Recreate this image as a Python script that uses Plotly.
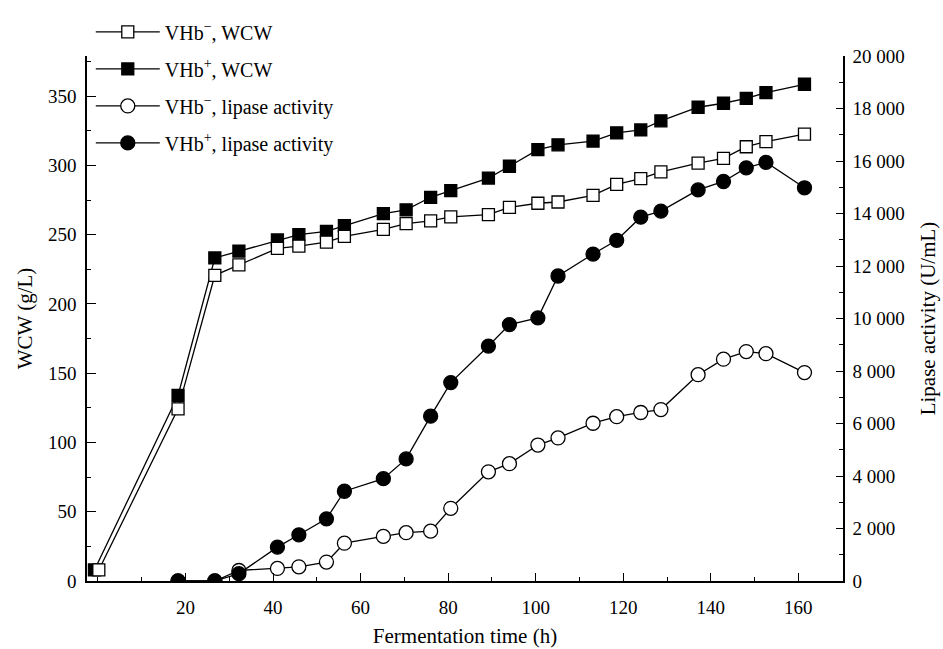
import plotly.graph_objects as go

# ---- data ----
time_wcw_neg = [0.2, 18.3, 26.7, 32.2, 41.0, 45.9, 52.2, 56.3, 65.2, 70.4, 76.0, 80.6, 89.2,
                94.0, 100.5, 105.1, 113.1, 118.5, 124.0, 128.6, 137.1, 142.9, 148.1, 152.6, 161.4]
time_wcw_pos = [-0.8, 18.3, 26.7, 32.2, 41.0, 45.9, 52.2, 56.3, 65.2, 70.4, 76.0, 80.6, 89.2,
                94.0, 100.5, 105.1, 113.1, 118.5, 124.0, 128.6, 137.1, 142.9, 148.1, 152.6, 161.4]
wcw_neg = [8, 124.3, 220.7, 228.2, 240.1, 241.7, 244.6, 248.8, 253.8, 258.0, 260.0, 262.9, 264.5,
           269.7, 272.7, 273.6, 278.4, 286.3, 290.5, 295.3, 301.6, 305.1, 313.5, 317.2, 322.6]
wcw_pos = [8, 133.9, 233.2, 238.2, 246.2, 250.1, 252.4, 256.5, 265.2, 267.9, 277.0, 281.8, 290.9,
           299.4, 311.4, 314.9, 317.6, 323.5, 325.6, 332.2, 342.0, 344.9, 348.4, 352.5, 358.6]

time_lip = [18.3, 26.7, 32.2, 41.0, 45.9, 52.2, 56.3, 65.2, 70.4, 76.0, 80.6, 89.2,
            94.0, 100.5, 105.1, 113.1, 118.5, 124.0, 128.6, 137.1, 142.9, 148.1, 152.6, 161.4]
lip_neg = [0, 0, 400, 480, 540, 720, 1440, 1700, 1840, 1900, 2770, 4160,
           4470, 5180, 5450, 6010, 6260, 6420, 6530, 7860, 8450, 8740, 8660, 7940]
lip_pos = [0, 0, 280, 1290, 1760, 2370, 3420, 3900, 4650, 6280, 7560, 8950,
           9770, 10025, 11620, 12455, 12980, 13860, 14090, 14900, 15220, 15740, 15950, 14980]

names = ["VHb<sup>−</sup>, WCW", "VHb<sup>+</sup>, WCW",
         "VHb<sup>−</sup>, lipase activity", "VHb<sup>+</sup>, lipase activity"]

x_ticks = [20, 40, 60, 80, 100, 120, 140, 160]
y1_ticks = [0, 50, 100, 150, 200, 250, 300, 350]
y2_ticks = [0, 2000, 4000, 6000, 8000, 10000, 12000, 14000, 16000, 18000, 20000]
y2_text = ["0", "2 000", "4 000", "6 000", "8 000", "10 000", "12 000",
           "14 000", "16 000", "18 000", "20 000"]

FONT = "Liberation Serif, Times New Roman, serif"
line = dict(color="black", width=1.3)

fig = go.Figure()
fig.add_trace(go.Scatter(x=time_lip, y=lip_neg, name=names[2], yaxis="y2", mode="lines+markers",
                         line=line, legendgroup="c", legendrank=3,
                         marker=dict(symbol="circle", size=14, color="white",
                                     line=dict(color="black", width=1.3))))
fig.add_trace(go.Scatter(x=time_lip, y=lip_pos, name=names[3], yaxis="y2", mode="lines+markers",
                         line=line, legendgroup="d", legendrank=4,
                         marker=dict(symbol="circle", size=14, color="black",
                                     line=dict(color="black", width=1.3))))
fig.add_trace(go.Scatter(x=time_wcw_pos, y=wcw_pos, name=names[1], mode="lines+markers",
                         line=line, legendgroup="b", legendrank=2,
                         marker=dict(symbol="square", size=12, color="black",
                                     line=dict(color="black", width=1.3))))
fig.add_trace(go.Scatter(x=time_wcw_neg, y=wcw_neg, name=names[0], mode="lines+markers",
                         line=line, legendgroup="a", legendrank=1,
                         marker=dict(symbol="square", size=12, color="white",
                                     line=dict(color="black", width=1.3))))

fig.update_layout(
    width=943, height=649,
    margin=dict(l=87, r=100, t=27, b=68),
    paper_bgcolor="white", plot_bgcolor="white",
    font=dict(family=FONT, size=19, color="black"),
    legend=dict(x=0.005, y=1.083, xanchor="left", yanchor="top",
                bgcolor="rgba(0,0,0,0)", font=dict(size=20, family=FONT),
                tracegroupgap=8, itemwidth=64, traceorder="grouped"),
    xaxis=dict(range=[-2.5, 170.2], tickvals=x_ticks, showgrid=False, zeroline=False,
               automargin=False,
               showline=True, linecolor="black", linewidth=1.5,
               ticks="inside", ticklen=8, tickwidth=1.3, tickcolor="black",
               minor=dict(dtick=10, tick0=0, ticks="inside", ticklen=4, tickwidth=1.3,
                          tickcolor="black"),
               tickfont=dict(size=19), ticklabelstandoff=8,
               title=dict(text="Fermentation time (h)", font=dict(size=21), standoff=12)),
    yaxis=dict(range=[0, 379], tickvals=y1_ticks, showgrid=False, zeroline=False,
               automargin=False,
               showline=True, linecolor="black", linewidth=1.5,
               ticks="inside", ticklen=9, tickwidth=1.3, tickcolor="black",
               minor=dict(dtick=25, ticks="inside", ticklen=4, tickwidth=1.3, tickcolor="black"),
               tickfont=dict(size=19), ticklabelstandoff=5,
               title=dict(text="WCW (g/L)", font=dict(size=21), standoff=10)),
    yaxis2=dict(range=[0, 20000], tickvals=y2_ticks, ticktext=y2_text, overlaying="y",
                side="right", showgrid=False, zeroline=False, automargin=False,
                showline=True, linecolor="black", linewidth=1.5,
                ticks="inside", ticklen=7, tickwidth=1.3, tickcolor="black",
                minor=dict(dtick=1000, ticks="inside", ticklen=4, tickwidth=1.3,
                           tickcolor="black"),
                tickfont=dict(size=19), ticklabelstandoff=4,
                title=dict(text="Lipase activity (U/mL)", font=dict(size=21), standoff=17)),
)

fig.write_html("out.html")
